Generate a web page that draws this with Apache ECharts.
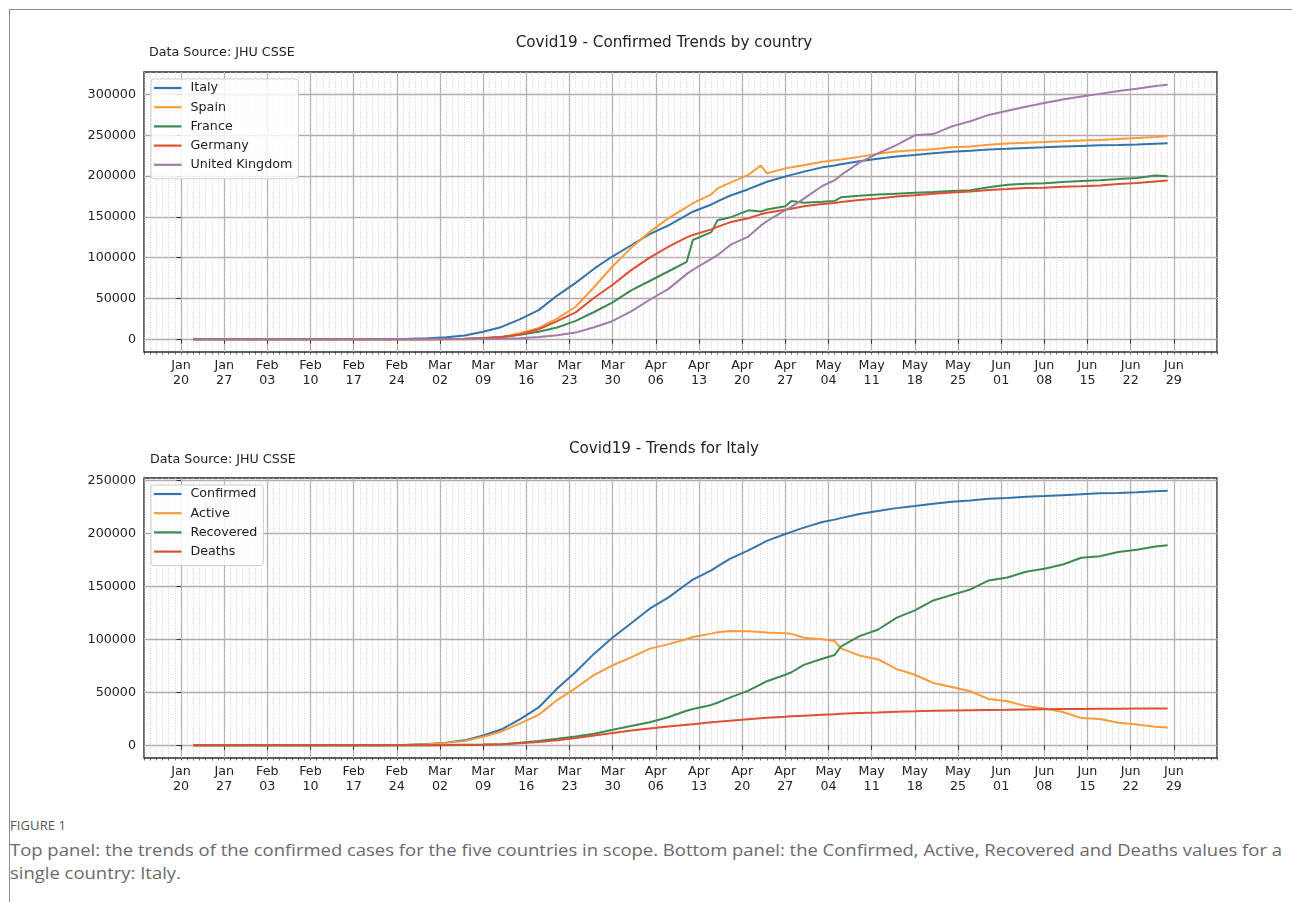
<!DOCTYPE html>
<html>
<head>
<meta charset="utf-8">
<title>Covid19 trends</title>
<script src="https://cdn.jsdelivr.net/npm/echarts@6/dist/echarts.min.js"></script>
<style>
  html, body { margin: 0; padding: 0; background: #fff; }
  #wrap { position: relative; width: 1292px; height: 902px; overflow: hidden; }
  #frame { position: absolute; left: 9px; top: 9px; width: 1300px; height: 900px;
           border-top: 1px solid #8c8c8c; border-left: 1px solid #8c8c8c; }
  #chart { position: absolute; left: 0; top: 0; width: 1292px; height: 810px; }
  #fig { position: absolute; left: 10px; top: 816px; font-family: 'Open Sans', sans-serif;
         font-size: 13px; color: #555; letter-spacing: 0.1px; }
  #cap { position: absolute; left: 10px; top: 838px; font-family: 'Open Sans', sans-serif;
         font-size: 17px; font-weight: 400; color: #6a6a6a; line-height: 23px;
         transform-origin: 0 0; white-space: nowrap; }
</style>
</head>
<body>
<div id="wrap">
  <div id="frame"></div>
  <div id="chart"></div>
  <div id="fig">FIGURE 1</div>
  <div id="cap"><span id="capLine1">Top panel: the trends of the confirmed cases for the five countries in scope. Bottom panel: the Confirmed, Active, Recovered and Deaths values for a</span><br>single country: Italy.</div>
</div>
<script>
// Reporting dates (2020)
const dates = [
  '2020-01-22','2020-02-01','2020-02-15','2020-02-21','2020-02-25','2020-02-29',
  '2020-03-03','2020-03-06','2020-03-09','2020-03-12','2020-03-15','2020-03-18',
  '2020-03-21','2020-03-24','2020-03-27','2020-03-30','2020-04-02','2020-04-05',
  '2020-04-08','2020-04-11','2020-04-12','2020-04-15','2020-04-16','2020-04-18',
  '2020-04-21','2020-04-23','2020-04-24','2020-04-27','2020-04-28','2020-04-30',
  '2020-05-03','2020-05-05','2020-05-06','2020-05-09','2020-05-12','2020-05-15',
  '2020-05-18','2020-05-21','2020-05-24','2020-05-27','2020-05-30','2020-06-02',
  '2020-06-05','2020-06-08','2020-06-11','2020-06-14','2020-06-17','2020-06-20',
  '2020-06-23','2020-06-26','2020-06-28'
];

// Confirmed cases by country
const italy = [
  0, 2, 3, 20, 322, 1128, 2502, 4636, 9172, 15113, 24747, 35713,
  53578, 69176, 86498, 101739, 115242, 128948, 139422, 152271, 156363, 165155, 168941, 175925,
  183957, 189973, 192994, 199414, 201505, 205463, 210717, 213013, 214457, 218268, 221216, 223885,
  225886, 228006, 229858, 231139, 232664, 233515, 234531, 235278, 236142, 236989, 237828, 238275,
  238833, 239706, 240310
];
const spain = [
  0, 1, 2, 2, 6, 45, 165, 400, 1073, 2277, 7798, 13910,
  25374, 39885, 64059, 89500, 112065, 131646, 148220, 161852, 166831, 177644, 184948, 191726,
  201500, 213024, 203500, 209465, 210773, 213435, 217466, 219329, 220325, 223578, 227436, 230183,
  231606, 233037, 235400, 236259, 238564, 239932, 240978, 241717, 242707, 243605, 244328, 245575,
  246752, 247905, 248770
];
const france = [
  0, 6, 12, 12, 14, 100, 204, 656, 1412, 2896, 5428, 9134,
  14463, 22622, 33414, 45170, 59929, 71412, 83057, 94863, 121712, 131361, 146000, 149149,
  158000, 156500, 159000, 163000, 169500, 167300, 168500, 169500, 174000, 176000, 177500, 178500,
  179500, 180500, 181800, 182800, 186300, 189300, 190500, 191300, 192700, 194000, 195000, 196300,
  197800, 200800, 199800
];
const germany = [
  0, 8, 16, 16, 16, 79, 196, 670, 1176, 2745, 5795, 12327,
  22213, 32986, 50871, 66885, 84794, 100123, 113296, 124908, 127854, 134753, 137698, 143342,
  148291, 153129, 154999, 158758, 159912, 163009, 165664, 167007, 168162, 170588, 172576, 174975,
  176551, 178473, 179986, 181196, 183019, 184091, 185416, 185869, 186839, 187423, 188534, 190299,
  191449, 193499, 194693
];
const unitedKingdom = [
  0, 2, 9, 9, 13, 23, 51, 164, 322, 590, 1395, 2642,
  5067, 8164, 14745, 22453, 34173, 48436, 61474, 79874, 85206, 98476, 103093, 115314,
  125856, 139246, 144640, 158348, 162350, 172481, 187842, 194990, 201101, 216525, 227741, 238004,
  250000, 251500, 260916, 267240, 275000, 280000, 285000, 289500, 294000, 297500, 300800, 304300,
  307000, 310300, 312000
];

// Italy breakdown (confirmed is the `italy` series above)
const italyActive = [
  0, 2, 3, 19, 310, 1053, 2263, 3916, 7985, 13052, 20603, 28710,
  42681, 54030, 66414, 75528, 83049, 91246, 95262, 100269, 102253, 105418, 106607, 107771,
  107709, 106848, 106527, 105813, 105205, 101551, 100179, 98467, 91528, 84842, 81266, 72070,
  66553, 58800, 55092, 50966, 43691, 41630, 36976, 34730, 31345, 25634, 24854, 21261,
  19573, 17383, 16681
];
const italyRecovered = [
  0, 0, 0, 0, 1, 46, 160, 523, 724, 1045, 2335, 4025,
  6072, 8326, 10950, 14620, 18278, 21815, 26491, 32534, 34211, 38092, 40164, 44927,
  51600, 57576, 60498, 66624, 68941, 75945, 81654, 85231, 93245, 103031, 109039, 120205,
  127326, 136720, 141981, 147101, 155633, 158355, 163781, 166584, 170630, 177010, 178526, 182453,
  184585, 187615, 188891
];
const italyDeaths = [
  0, 0, 0, 1, 11, 29, 79, 197, 463, 1016, 1809, 2978,
  4825, 6820, 9134, 11591, 13915, 15887, 17669, 19468, 19899, 21645, 22170, 23227,
  24648, 25549, 25969, 26977, 27359, 27967, 28884, 29315, 29684, 30395, 30911, 31610,
  32007, 32486, 32785, 33072, 33340, 33530, 33774, 33964, 34167, 34345, 34448, 34561,
  34675, 34708, 34738
];

// Tick labels
const weekTicks = [
  '2020-01-20','2020-01-27','2020-02-03','2020-02-10','2020-02-17','2020-02-24',
  '2020-03-02','2020-03-09','2020-03-16','2020-03-23','2020-03-30','2020-04-06',
  '2020-04-13','2020-04-20','2020-04-27','2020-05-04','2020-05-11','2020-05-18',
  '2020-05-25','2020-06-01','2020-06-08','2020-06-15','2020-06-22','2020-06-29'
];
const yTicksTop = [0, 50000, 100000, 150000, 200000, 250000, 300000];
const yTicksBottom = [0, 50000, 100000, 150000, 200000, 250000];

// ---- helpers -------------------------------------------------------
const ORIGIN = Date.parse('2020-01-20T00:00:00Z');
const DAY = 864e5;
const MON = ['Jan','Feb','Mar','Apr','May','Jun','Jul','Aug','Sep','Oct','Nov','Dec'];
const toDay = s => (Date.parse(s + 'T00:00:00Z') - ORIGIN) / DAY;
const pts = vals => dates.map((d, i) => [toDay(d), vals[i]]);
const tickDays = weekTicks.map(toDay);
function dayLabel(v) {
  const d = new Date(ORIGIN + Math.round(v) * DAY);
  return MON[d.getUTCMonth()] + '\n' + String(d.getUTCDate()).padStart(2, '0');
}
function padRange(arrs) {
  let lo = Infinity, hi = -Infinity;
  arrs.forEach(a => a.forEach(v => { lo = Math.min(lo, v); hi = Math.max(hi, v); }));
  const m = (hi - lo) * 0.05;
  return [lo - m, hi + m];
}

const FONT = 'DejaVu Sans';
const TXT = '#222';
const X_MIN = -6, X_MAX = 168;
const MAJOR_GRID = { color: '#b4aaaa', width: 1.3 };

function majorX(gridIndex) {
  return {
    type: 'value', gridIndex, min: X_MIN, max: X_MAX, position: 'bottom',
    axisLine: { show: false },
    axisTick: { show: true, length: 4.5, customValues: tickDays, lineStyle: { color: '#333', width: 1 } },
    axisLabel: { customValues: tickDays, formatter: dayLabel, fontFamily: FONT, fontSize: 12.7,
                 color: TXT, lineHeight: 15, margin: 6 },
    splitLine: { show: true, lineStyle: MAJOR_GRID }
  };
}
function minorX(gridIndex) {
  return {
    type: 'value', gridIndex, min: X_MIN, max: X_MAX, interval: 1, position: 'bottom',
    axisLine: { show: false },
    axisTick: { show: true, length: 2.5, lineStyle: { color: '#444', width: 0.8 } },
    axisLabel: { show: false },
    splitLine: { show: true, lineStyle: { color: '#c9c6c6', width: 0.8, type: [1, 1.5] } }
  };
}
function yAx(gridIndex, ticks, range) {
  return {
    type: 'value', gridIndex, min: range[0], max: range[1],
    axisLine: { show: false },
    axisTick: { show: true, length: 4.5, customValues: ticks, lineStyle: { color: '#333', width: 1 } },
    axisLabel: { customValues: ticks, formatter: v => String(v), fontFamily: FONT, fontSize: 12.7,
                 color: TXT, margin: 8 },
    splitLine: { show: true, lineStyle: MAJOR_GRID }
  };
}
function legendBox(top, names) {
  return {
    orient: 'vertical', left: 151, top, data: names,
    icon: 'rect', itemWidth: 27.5, itemHeight: 2.2, itemGap: 5.2,
    padding: [2, 6, 7, 3],
    backgroundColor: 'rgba(255,255,255,0.82)', borderColor: '#cfcfcf', borderWidth: 1, borderRadius: 3,
    textStyle: { fontFamily: FONT, fontSize: 12.7, color: TXT, lineHeight: 14, padding: [0, 0, 0, 4] },
    selectedMode: false
  };
}
function line(name, data, color, xi, yi) {
  return {
    type: 'line', name, data, xAxisIndex: xi, yAxisIndex: yi,
    showSymbol: false, symbol: 'none', smooth: false,
    lineStyle: { color, width: 2 }, itemStyle: { color },
    emphasis: { disabled: true }
  };
}

const C = { blue: '#3574aa', orange: '#fb9b3c', green: '#3f8a52', red: '#dd5035', purple: '#a27bab' };

const topRange = padRange([italy, spain, france, germany, unitedKingdom]);
const botRange = padRange([italy, italyActive, italyRecovered, italyDeaths]);

const chart = echarts.init(document.getElementById('chart'), null, { renderer: 'canvas' });
chart.setOption({
  animation: false,
  backgroundColor: 'transparent',
  grid: [
    { left: 144, top: 72, width: 1073, height: 280, show: true, borderColor: '#2a2a2a', borderWidth: 1.4,
      backgroundColor: 'transparent', outerBoundsMode: 'none' },
    { left: 144, top: 478, width: 1073, height: 280, show: true, borderColor: '#2a2a2a', borderWidth: 1.4,
      backgroundColor: 'transparent', outerBoundsMode: 'none' }
  ],
  xAxis: [majorX(0), minorX(0), majorX(1), minorX(1)],
  yAxis: [yAx(0, yTicksTop, topRange), yAx(1, yTicksBottom, botRange)],
  legend: [
    legendBox(79, ['Italy', 'Spain', 'France', 'Germany', 'United Kingdom']),
    legendBox(485, ['Confirmed', 'Active', 'Recovered', 'Deaths'])
  ],
  graphic: [
    { type: 'text', x: 664, y: 43, style: { text: 'Covid19 - Confirmed Trends by country', font: '15.2px "DejaVu Sans"',
      fill: TXT, textAlign: 'center', textVerticalAlign: 'middle' } },
    { type: 'text', x: 149, y: 53, style: { text: 'Data Source: JHU CSSE', font: '12.7px "DejaVu Sans"',
      fill: TXT, textAlign: 'left', textVerticalAlign: 'middle' } },
    { type: 'text', x: 664, y: 449, style: { text: 'Covid19 - Trends for Italy', font: '15.2px "DejaVu Sans"',
      fill: TXT, textAlign: 'center', textVerticalAlign: 'middle' } },
    { type: 'text', x: 150, y: 460, style: { text: 'Data Source: JHU CSSE', font: '12.7px "DejaVu Sans"',
      fill: TXT, textAlign: 'left', textVerticalAlign: 'middle' } }
  ],
  series: [
    line('Italy', pts(italy), C.blue, 0, 0),
    line('Spain', pts(spain), C.orange, 0, 0),
    line('France', pts(france), C.green, 0, 0),
    line('Germany', pts(germany), C.red, 0, 0),
    line('United Kingdom', pts(unitedKingdom), C.purple, 0, 0),
    line('Confirmed', pts(italy), C.blue, 2, 1),
    line('Active', pts(italyActive), C.orange, 2, 1),
    line('Recovered', pts(italyRecovered), C.green, 2, 1),
    line('Deaths', pts(italyDeaths), C.red, 2, 1)
  ]
});

// Stretch the caption so its first line spans the figure width
(function fitCaption() {
  const cap = document.getElementById('cap');
  const w = document.getElementById('capLine1').getBoundingClientRect().width;
  if (w > 0) cap.style.transform = 'scaleX(' + (1272 / w) + ')';
})();
</script>
</body>
</html>
